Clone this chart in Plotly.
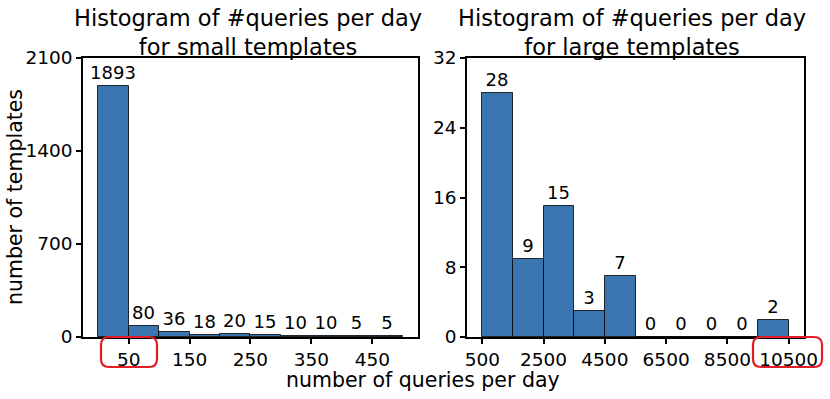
import plotly.graph_objects as go
from plotly.subplots import make_subplots

# histogram bins (bin centres) and counts
small_bins = [25, 75, 125, 175, 225, 275, 325, 375, 425, 475]
small_counts = [1893, 80, 36, 18, 20, 15, 10, 10, 5, 5]
small_ticks = [50, 150, 250, 350, 450]
small_yticks = [0, 700, 1400, 2100]

large_bins = [1000, 2000, 3000, 4000, 5000, 6000, 7000, 8000, 9000, 10000]
large_counts = [28, 9, 15, 3, 7, 0, 0, 0, 0, 2]
large_ticks = [500, 2500, 4500, 6500, 8500, 10500]
large_yticks = [0, 8, 16, 24, 32]

W, H = 830, 399
L, R, T, B = 83, 26, 58, 62
pw, ph = W - L - R, H - T - B

FONT = "DejaVu Sans"
BAR = "rgb(58,117,175)"

fig = make_subplots(rows=1, cols=2, horizontal_spacing=0.068)

fig.add_trace(go.Bar(x=small_bins, y=small_counts, width=50,
                     marker=dict(color=BAR, line=dict(color="rgba(0,0,0,0.8)", width=1)),
                     text=small_counts, textposition="outside", constraintext="none",
                     cliponaxis=False, textfont=dict(size=18, color="black")), 1, 1)
fig.add_trace(go.Bar(x=large_bins, y=large_counts, width=1000,
                     marker=dict(color=BAR, line=dict(color="rgba(0,0,0,0.8)", width=1)),
                     text=large_counts, textposition="outside", constraintext="none",
                     cliponaxis=False, textfont=dict(size=18, color="black")), 1, 2)

ax = dict(showline=True, mirror=True, linecolor="black", linewidth=1.5,
          ticks="outside", ticklen=5, tickwidth=1.5, tickcolor="black",
          showgrid=False, zeroline=False, automargin=False, tickformat="d",
          tickfont=dict(size=18.5, color="black"))

fig.update_xaxes(**ax)
fig.update_yaxes(**ax)
fig.update_xaxes(range=[-25, 525], tickvals=small_ticks, domain=[0, 0.4646], row=1, col=1)
fig.update_xaxes(range=[0, 11000], tickvals=large_ticks, domain=[0.5326, 1], row=1, col=2)
fig.update_yaxes(range=[0, 2100], tickvals=small_yticks, row=1, col=1)
fig.update_yaxes(range=[0, 32], tickvals=large_yticks, row=1, col=2)


def px2paper(x, y):
    return (x - L) / pw, (H - B - y) / ph


def rounded_box(x0, y0, x1, y1, r=8):
    pts = [(x0 + r, y0), (x1 - r, y0), (x1, y0), (x1, y0 + r), (x1, y1 - r), (x1, y1),
           (x1 - r, y1), (x0 + r, y1), (x0, y1), (x0, y1 - r), (x0, y0 + r), (x0, y0), (x0 + r, y0)]
    p = [px2paper(a, b) for a, b in pts]
    f = lambda q: f"{q[0]:.5f},{q[1]:.5f}"
    return (f"M{f(p[0])} L{f(p[1])} Q{f(p[2])} {f(p[3])} L{f(p[4])} Q{f(p[5])} {f(p[6])} "
            f"L{f(p[7])} Q{f(p[8])} {f(p[9])} L{f(p[10])} Q{f(p[11])} {f(p[12])} Z")


for box in [(101, 337, 157, 367), (753, 337, 822, 367)]:
    fig.add_shape(type="path", path=rounded_box(*box), xref="paper", yref="paper",
                  line=dict(color="rgb(225,30,40)", width=2.2))

titles = ["Histogram of #queries per day<br>for small templates",
          "Histogram of #queries per day<br>for large templates"]
for t, cx in zip(titles, [248, 632]):
    x, y = px2paper(cx, 33)
    fig.add_annotation(text=t, x=x, y=y, xref="paper", yref="paper", showarrow=False,
                       xanchor="center", yanchor="middle", font=dict(size=22.5, color="black"))

x, y = px2paper(423, 380)
fig.add_annotation(text="number of queries per day", x=x, y=y, xref="paper", yref="paper",
                   showarrow=False, xanchor="center", yanchor="middle",
                   font=dict(size=20.5, color="black"))
x, y = px2paper(15, 197)
fig.add_annotation(text="number of templates", x=x, y=y, xref="paper", yref="paper",
                   showarrow=False, textangle=-90, xanchor="center", yanchor="middle",
                   font=dict(size=20.5, color="black"))

fig.update_layout(width=W, height=H, margin=dict(l=L, r=R, t=T, b=B),
                  plot_bgcolor="white", paper_bgcolor="white", showlegend=False,
                  bargap=0, font=dict(family=FONT, color="black"))

# drop the default 8px page margin so the figure sits at the window's corner
fig.write_html("out.html", config={"displayModeBar": False},
               post_script="document.body.style.margin='0';")
